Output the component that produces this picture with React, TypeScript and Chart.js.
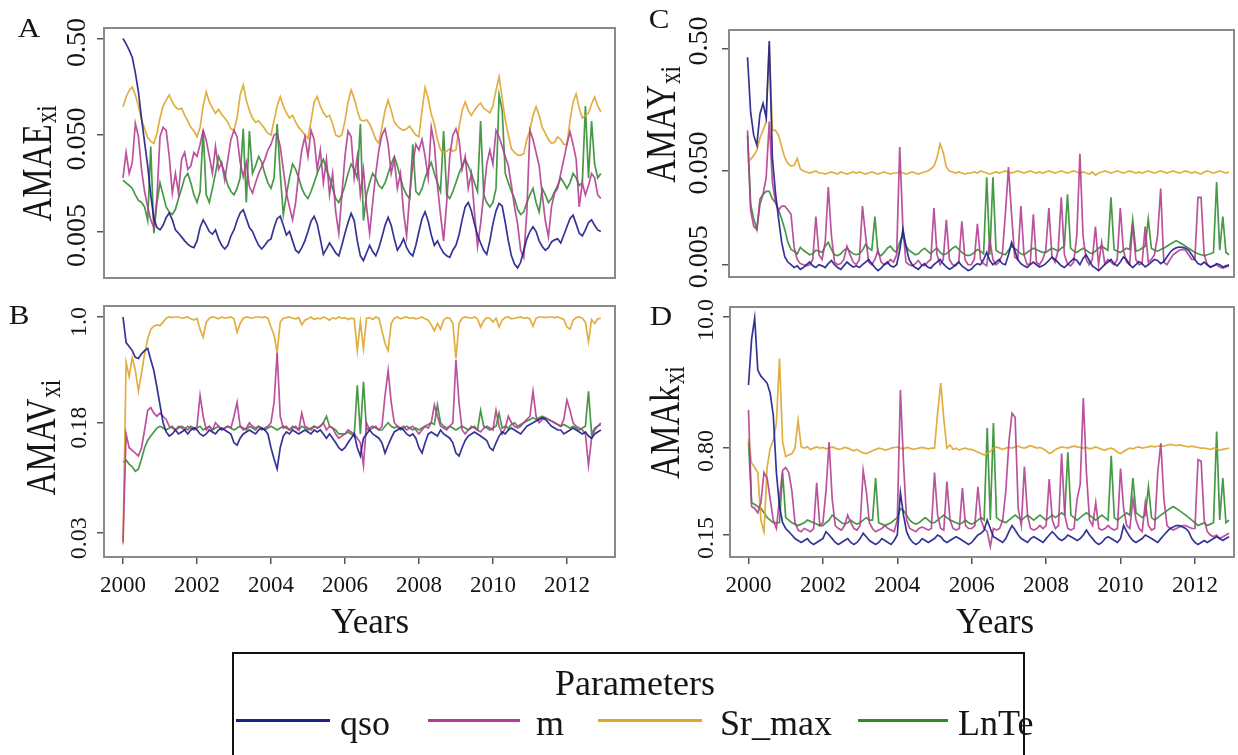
import React, { useEffect, useRef } from "react";
import { Chart, registerables } from "chart.js";
Chart.register(...registerables);

const W = 1238;
const H = 755;
const SERIF = '"Liberation Serif", "DejaVu Serif", serif';
const TEXT = "#151515";
const FRAME = "#8a8a8a";
const TICKC = "#555555";

const SERIES_NAMES = ["qso", "m", "Sr_max", "LnTe"];
const SERIES_COLORS = ["rgba(30,30,140,0.9)", "rgba(178,58,144,0.88)", "rgba(222,166,44,0.9)", "rgba(46,139,46,0.88)"];
const LEGEND_COLORS = ["#1e1e8c", "#b23a90", "#dea62c", "#2e8b2e"];

// monthly time stamps Jan 2000 .. Dec 2012
const MONTHS = Array.from({ length: 156 }, (_, i) => 2000 + i / 12);
const YEAR_TICKS = [2000, 2002, 2004, 2006, 2008, 2010, 2012];

// ---------------- Panel A : AMAE ----------------
const A_QSO = [
  0.50, 0.44, 0.38, 0.32, 0.22, 0.14, 0.075, 0.042, 0.024, 0.012, 0.0068, 0.0055,
  0.0052, 0.0058, 0.0070, 0.0078, 0.0066, 0.0052, 0.0048, 0.0044, 0.0040, 0.0037, 0.0035, 0.0034,
  0.0040, 0.0055, 0.0066, 0.0058, 0.0050, 0.0047, 0.0052, 0.0042, 0.0036, 0.0033, 0.0036, 0.0045,
  0.0052, 0.0065, 0.0078, 0.0084, 0.0068, 0.0055, 0.0050, 0.0042, 0.0036, 0.0033, 0.0036, 0.0040,
  0.0042, 0.0055, 0.0068, 0.0072, 0.0058, 0.0046, 0.0050, 0.0040, 0.0032, 0.0030, 0.0034, 0.0040,
  0.0050, 0.0064, 0.0072, 0.0060, 0.0042, 0.0029, 0.0033, 0.0038, 0.0034, 0.0030, 0.0028, 0.0036,
  0.0048, 0.0062, 0.0077, 0.0065, 0.0040, 0.0028, 0.0025, 0.0030, 0.0036, 0.0031, 0.0028, 0.0034,
  0.0044, 0.0058, 0.0070, 0.0058, 0.0042, 0.0032, 0.0036, 0.0042, 0.0034, 0.0030, 0.0028, 0.0036,
  0.0050, 0.0068, 0.0080, 0.0064, 0.0046, 0.0036, 0.0040, 0.0034, 0.0030, 0.0028, 0.0027, 0.0032,
  0.0036, 0.0046, 0.0066, 0.0090, 0.0100, 0.0082, 0.0060, 0.0046, 0.0038, 0.0032, 0.0029, 0.0040,
  0.0060, 0.0082, 0.0098, 0.0092, 0.0062, 0.0040, 0.0028, 0.0023, 0.0021, 0.0024, 0.0032, 0.0042,
  0.0050, 0.0056, 0.0050, 0.0040, 0.0035, 0.0032, 0.0034, 0.0039, 0.0041, 0.0042, 0.0038, 0.0046,
  0.0056, 0.0068, 0.0074, 0.0060, 0.0048, 0.0045, 0.0052, 0.0062, 0.0066, 0.0058, 0.0052, 0.0050,
];
const A_M = [
  0.018, 0.033, 0.020, 0.026, 0.066, 0.048, 0.022, 0.013, 0.009, 0.0066, 0.0055, 0.011,
  0.048, 0.060, 0.056, 0.030, 0.0125, 0.020, 0.0125, 0.028, 0.033, 0.022, 0.024, 0.033,
  0.030, 0.040, 0.056, 0.044, 0.030, 0.020, 0.038, 0.022, 0.026, 0.017, 0.028, 0.045,
  0.056, 0.048, 0.026, 0.0185, 0.026, 0.0146, 0.0125, 0.016, 0.020, 0.0235, 0.028, 0.035,
  0.040, 0.050, 0.052, 0.038, 0.022, 0.0125, 0.009, 0.0066, 0.010, 0.020, 0.035, 0.048,
  0.030, 0.056, 0.045, 0.022, 0.035, 0.016, 0.028, 0.012, 0.020, 0.008, 0.0048, 0.012,
  0.030, 0.055, 0.048, 0.018, 0.030, 0.012, 0.022, 0.009, 0.0048, 0.010, 0.020, 0.035,
  0.050, 0.058, 0.040, 0.020, 0.028, 0.014, 0.020, 0.008, 0.0045, 0.012, 0.025, 0.040,
  0.035, 0.045, 0.030, 0.018, 0.060, 0.040, 0.015, 0.0075, 0.0040, 0.010, 0.030, 0.050,
  0.058, 0.045, 0.022, 0.030, 0.014, 0.020, 0.008, 0.0035, 0.006, 0.012, 0.025, 0.035,
  0.025, 0.056, 0.048, 0.038, 0.030, 0.024, 0.015, 0.009, 0.006, 0.0032, 0.0027, 0.008,
  0.056, 0.045, 0.033, 0.024, 0.012, 0.0065, 0.0044, 0.009, 0.0125, 0.014, 0.020, 0.028,
  0.040, 0.054, 0.040, 0.028, 0.009, 0.016, 0.012, 0.015, 0.020, 0.018, 0.012, 0.011,
];
const A_SR = [
  0.098, 0.124, 0.145, 0.157, 0.130, 0.100, 0.072, 0.058, 0.047, 0.043, 0.041, 0.052,
  0.075, 0.100, 0.115, 0.130, 0.110, 0.098, 0.092, 0.095, 0.080, 0.070, 0.060, 0.055,
  0.048, 0.060, 0.100, 0.140, 0.110, 0.095, 0.084, 0.092, 0.082, 0.075, 0.068, 0.058,
  0.056, 0.075, 0.130, 0.165, 0.115, 0.090, 0.075, 0.068, 0.070, 0.064, 0.058, 0.052,
  0.050, 0.070, 0.100, 0.125, 0.100, 0.085, 0.075, 0.080, 0.068, 0.060, 0.055, 0.050,
  0.046, 0.070, 0.110, 0.125, 0.100, 0.085, 0.077, 0.080, 0.065, 0.050, 0.048, 0.050,
  0.070, 0.110, 0.146, 0.120, 0.090, 0.072, 0.070, 0.072, 0.065, 0.055, 0.045, 0.041,
  0.060, 0.090, 0.115, 0.090, 0.068, 0.062, 0.058, 0.056, 0.058, 0.062, 0.055, 0.050,
  0.048, 0.090, 0.155, 0.120, 0.082, 0.065, 0.045, 0.035, 0.033, 0.034, 0.036, 0.034,
  0.035, 0.060, 0.090, 0.110, 0.090, 0.080, 0.090, 0.100, 0.107, 0.095, 0.090, 0.085,
  0.100, 0.146, 0.200, 0.120, 0.072, 0.050, 0.036, 0.033, 0.031, 0.031, 0.032, 0.045,
  0.056, 0.080, 0.098, 0.080, 0.060, 0.052, 0.045, 0.041, 0.042, 0.048, 0.045, 0.040,
  0.040, 0.070, 0.110, 0.133, 0.095, 0.075, 0.080, 0.084, 0.105, 0.124, 0.100, 0.087,
];
const A_LN = [
  0.017, 0.016, 0.015, 0.014, 0.012, 0.0105, 0.010, 0.009, 0.0065, 0.038, 0.0048, 0.010,
  0.016, 0.012, 0.009, 0.008, 0.0075, 0.0085, 0.011, 0.014, 0.018, 0.020, 0.016, 0.012,
  0.010, 0.013, 0.056, 0.012, 0.010, 0.014, 0.020, 0.030, 0.025, 0.020, 0.015, 0.013,
  0.012, 0.014, 0.018, 0.058, 0.010, 0.055, 0.020, 0.024, 0.030, 0.026, 0.020, 0.016,
  0.014, 0.018, 0.065, 0.020, 0.0075, 0.012, 0.018, 0.025, 0.022, 0.018, 0.014, 0.012,
  0.011, 0.013, 0.016, 0.020, 0.024, 0.028, 0.022, 0.018, 0.014, 0.011, 0.010, 0.012,
  0.015, 0.020, 0.025, 0.022, 0.018, 0.065, 0.0065, 0.012, 0.016, 0.020, 0.018, 0.015,
  0.014, 0.016, 0.020, 0.025, 0.030, 0.024, 0.018, 0.014, 0.012, 0.011, 0.040, 0.013,
  0.012, 0.014, 0.018, 0.022, 0.026, 0.020, 0.016, 0.013, 0.055, 0.012, 0.011, 0.013,
  0.016, 0.020, 0.024, 0.028, 0.024, 0.020, 0.016, 0.013, 0.070, 0.012, 0.010, 0.009,
  0.010, 0.014, 0.130, 0.090, 0.020, 0.016, 0.013, 0.011, 0.0085, 0.0075, 0.008, 0.010,
  0.012, 0.014, 0.010, 0.008, 0.014, 0.012, 0.010, 0.011, 0.013, 0.015, 0.018, 0.016,
  0.014, 0.016, 0.020, 0.018, 0.015, 0.016, 0.100, 0.018, 0.070, 0.025, 0.018, 0.020,
];

// ---------------- Panel B : AMAV ----------------
const B_QSO = [
  1.0, 0.66, 0.62, 0.58, 0.52, 0.51, 0.55, 0.58, 0.60, 0.50, 0.42, 0.32,
  0.24, 0.18, 0.155, 0.145, 0.15, 0.16, 0.15, 0.155, 0.16, 0.15, 0.16, 0.165,
  0.16, 0.15, 0.145, 0.15, 0.16, 0.155, 0.15, 0.16, 0.165, 0.16, 0.155, 0.15,
  0.13, 0.125, 0.14, 0.15, 0.155, 0.16, 0.155, 0.15, 0.16, 0.165, 0.16, 0.15,
  0.12, 0.10, 0.085, 0.12, 0.145, 0.155, 0.15, 0.16, 0.155, 0.15, 0.155, 0.16,
  0.155, 0.15, 0.16, 0.155, 0.16, 0.15, 0.14, 0.15, 0.14, 0.13, 0.12, 0.115,
  0.12, 0.13, 0.14, 0.15, 0.12, 0.105, 0.14, 0.15, 0.16, 0.15, 0.145, 0.14,
  0.13, 0.11, 0.125, 0.14, 0.155, 0.16, 0.165, 0.16, 0.15, 0.145, 0.15, 0.14,
  0.12, 0.11, 0.13, 0.15, 0.155, 0.15, 0.145, 0.16, 0.15, 0.145, 0.14, 0.13,
  0.11, 0.105, 0.12, 0.135, 0.145, 0.15, 0.155, 0.15, 0.145, 0.14, 0.135, 0.12,
  0.115, 0.13, 0.145, 0.155, 0.15, 0.16, 0.165, 0.16, 0.155, 0.15, 0.16, 0.17,
  0.175, 0.18, 0.185, 0.19, 0.195, 0.19, 0.18, 0.17, 0.165, 0.16, 0.16, 0.15,
  0.155, 0.16, 0.165, 0.16, 0.155, 0.15, 0.155, 0.145, 0.14, 0.15, 0.155, 0.16,
];
const B_M = [
  0.026, 0.15, 0.12, 0.115, 0.11, 0.105, 0.12, 0.16, 0.22, 0.23, 0.21, 0.20,
  0.21, 0.20, 0.19, 0.17, 0.165, 0.16, 0.17, 0.165, 0.16, 0.17, 0.165, 0.16,
  0.17, 0.28, 0.20, 0.16, 0.17, 0.16, 0.18, 0.17, 0.16, 0.165, 0.17, 0.165,
  0.20, 0.25, 0.17, 0.16, 0.165, 0.18, 0.17, 0.165, 0.17, 0.16, 0.165, 0.17,
  0.18, 0.25, 0.56, 0.20, 0.165, 0.17, 0.16, 0.165, 0.17, 0.16, 0.21, 0.17,
  0.165, 0.16, 0.17, 0.165, 0.17, 0.18, 0.16, 0.17, 0.165, 0.15, 0.14, 0.145,
  0.15, 0.16, 0.155, 0.15, 0.14, 0.13, 0.09, 0.18, 0.16, 0.165, 0.17, 0.16,
  0.17, 0.28, 0.42, 0.25, 0.18, 0.17, 0.165, 0.17, 0.16, 0.165, 0.17, 0.16,
  0.15, 0.16, 0.17, 0.165, 0.18, 0.24, 0.20, 0.17, 0.165, 0.16, 0.17, 0.18,
  0.50, 0.25, 0.16, 0.15, 0.16, 0.165, 0.17, 0.16, 0.155, 0.165, 0.17, 0.165,
  0.16, 0.22, 0.17, 0.15, 0.165, 0.20, 0.18, 0.17, 0.165, 0.17, 0.18, 0.19,
  0.20, 0.30, 0.20, 0.18, 0.19, 0.195, 0.19, 0.185, 0.18, 0.175, 0.17, 0.19,
  0.26, 0.22, 0.18, 0.17, 0.165, 0.16, 0.15, 0.09, 0.14, 0.16, 0.17, 0.18,
];
const B_SR = [
  0.025, 0.48, 0.38, 0.52, 0.42, 0.30, 0.40, 0.55, 0.70, 0.82, 0.86, 0.88,
  0.87, 0.92, 0.98, 1.0, 0.99, 1.0, 1.0, 0.98, 0.99, 1.0, 0.97, 0.95,
  0.98, 0.82, 0.72, 0.92, 0.98, 1.0, 0.99, 0.97, 1.0, 0.98, 0.99, 1.0,
  0.97, 0.78, 0.90, 0.98, 1.0, 0.99, 0.98, 1.0, 1.0, 0.99, 1.0, 0.98,
  0.85, 0.75, 0.56, 0.92, 0.98, 0.99, 1.0, 0.98, 0.97, 0.99, 0.88, 0.95,
  0.97, 1.0, 0.96, 0.98, 0.97, 1.0, 0.98, 0.95, 0.99, 0.97, 1.0, 0.98,
  0.99, 0.96, 0.98, 0.97, 0.58, 0.92, 0.60, 0.98, 0.99, 0.96, 1.0, 0.98,
  0.80, 0.65, 0.58, 0.90, 0.98, 1.0, 0.97, 0.99, 1.0, 0.98, 0.99, 0.97,
  0.98, 1.0, 0.97, 0.95, 0.88, 0.80, 0.90, 0.82, 0.95, 0.99, 0.98, 0.90,
  0.51, 0.90, 0.98, 1.0, 0.99, 0.98, 1.0, 0.97, 0.85, 0.94, 0.99, 0.98,
  0.92, 0.98, 0.85, 0.95, 0.99, 1.0, 0.97, 0.98, 0.99, 1.0, 0.98, 0.99,
  0.97, 0.86, 0.98, 1.0, 1.0, 0.99, 1.0, 1.0, 0.99, 1.0, 0.98, 0.96,
  0.85, 0.82, 0.95, 0.99, 1.0, 0.98, 0.92, 0.67, 0.96, 0.90, 0.97, 0.98,
];
const B_LN = [
  0.095, 0.098, 0.092, 0.088, 0.082, 0.085, 0.10, 0.12, 0.135, 0.145, 0.155, 0.165,
  0.17, 0.165, 0.16, 0.165, 0.17, 0.16, 0.165, 0.17, 0.165, 0.16, 0.17, 0.165,
  0.165, 0.17, 0.16, 0.165, 0.17, 0.16, 0.165, 0.17, 0.16, 0.165, 0.17, 0.165,
  0.16, 0.165, 0.17, 0.165, 0.16, 0.17, 0.165, 0.16, 0.17, 0.165, 0.16, 0.165,
  0.17, 0.165, 0.16, 0.165, 0.17, 0.165, 0.16, 0.17, 0.165, 0.16, 0.17, 0.165,
  0.16, 0.165, 0.17, 0.165, 0.17, 0.18, 0.20, 0.17, 0.165, 0.16, 0.15, 0.15,
  0.15, 0.155, 0.15, 0.145, 0.33, 0.15, 0.35, 0.16, 0.165, 0.17, 0.165, 0.16,
  0.16, 0.17, 0.18, 0.17, 0.165, 0.17, 0.16, 0.165, 0.17, 0.165, 0.16, 0.165,
  0.16, 0.165, 0.17, 0.175, 0.18, 0.175, 0.24, 0.18, 0.17, 0.165, 0.17, 0.165,
  0.16, 0.165, 0.17, 0.165, 0.16, 0.17, 0.165, 0.16, 0.22, 0.17, 0.165, 0.16,
  0.165, 0.17, 0.21, 0.165, 0.17, 0.165, 0.175, 0.18, 0.17, 0.175, 0.18, 0.185,
  0.19, 0.195, 0.19, 0.195, 0.20, 0.195, 0.19, 0.185, 0.18, 0.175, 0.17, 0.175,
  0.17, 0.165, 0.17, 0.165, 0.16, 0.165, 0.17, 0.30, 0.15, 0.165, 0.17, 0.175,
];

// ---------------- Panel C : AMAY ----------------
const C_QSO = [
  0.43, 0.155, 0.10, 0.083, 0.15, 0.183, 0.14, 0.58, 0.065, 0.032, 0.018, 0.010,
  0.0065, 0.0055, 0.0050, 0.0045, 0.0048, 0.0042, 0.0045, 0.0050, 0.0055, 0.0048, 0.0045, 0.0050,
  0.0048, 0.0045, 0.0052, 0.0058, 0.0050, 0.0045, 0.0042, 0.0048, 0.0055, 0.0050, 0.0046, 0.0048,
  0.0045, 0.0050, 0.0055, 0.0060, 0.0052, 0.0045, 0.0040, 0.0044, 0.0050, 0.0055, 0.0048, 0.0046,
  0.0050, 0.0080, 0.0140, 0.0090, 0.0060, 0.0050, 0.0045, 0.0042, 0.0048, 0.0052, 0.0046, 0.0044,
  0.0050, 0.0055, 0.0060, 0.0052, 0.0046, 0.0042, 0.0045, 0.0050, 0.0055, 0.0048, 0.0044, 0.0040,
  0.0042, 0.0048, 0.0052, 0.0050, 0.0060, 0.0075, 0.0058, 0.0050, 0.0055, 0.0060, 0.0052, 0.0050,
  0.0070, 0.0100, 0.0080, 0.0060, 0.0052, 0.0048, 0.0045, 0.0050, 0.0055, 0.0050, 0.0046, 0.0048,
  0.0052, 0.0058, 0.0065, 0.0060, 0.0054, 0.0048, 0.0045, 0.0050, 0.0056, 0.0062, 0.0058, 0.0050,
  0.0062, 0.0070, 0.0058, 0.0048, 0.0044, 0.0040, 0.0045, 0.0050, 0.0055, 0.0060, 0.0052, 0.0048,
  0.0055, 0.0065, 0.0060, 0.0050, 0.0045, 0.0050, 0.0056, 0.0052, 0.0046, 0.0050, 0.0055, 0.0060,
  0.0058, 0.0052, 0.0056, 0.0065, 0.0075, 0.0082, 0.0086, 0.0088, 0.0087, 0.0085, 0.0080, 0.0070,
  0.0060, 0.0052, 0.0050, 0.0055, 0.0050, 0.0046, 0.0048, 0.0052, 0.0050, 0.0046, 0.0048, 0.0050,
];
const C_M = [
  0.11, 0.022, 0.015, 0.014, 0.028, 0.031, 0.044, 0.13, 0.040, 0.026, 0.022, 0.024,
  0.024, 0.022, 0.020, 0.0087, 0.0060, 0.0052, 0.0050, 0.0048, 0.0050, 0.0060, 0.019, 0.0070,
  0.0060, 0.010, 0.036, 0.012, 0.0055, 0.0050, 0.0052, 0.0060, 0.0090, 0.0070, 0.0055, 0.0050,
  0.0060, 0.024, 0.012, 0.0055, 0.0050, 0.0060, 0.0080, 0.0055, 0.0050, 0.0052, 0.0060, 0.0055,
  0.0070, 0.080, 0.015, 0.0055, 0.0050, 0.0048, 0.0052, 0.0058, 0.0050, 0.0048, 0.0055, 0.0060,
  0.023, 0.0070, 0.0050, 0.0060, 0.0176, 0.0060, 0.0050, 0.0048, 0.0055, 0.017, 0.0060, 0.0050,
  0.0050, 0.0060, 0.016, 0.0060, 0.0052, 0.0048, 0.0107, 0.0060, 0.0050, 0.0055, 0.0070, 0.020,
  0.054, 0.020, 0.0065, 0.0060, 0.024, 0.0070, 0.0050, 0.0052, 0.020, 0.0055, 0.0050, 0.0060,
  0.0080, 0.023, 0.0065, 0.0055, 0.0080, 0.029, 0.0070, 0.0052, 0.0048, 0.0055, 0.012, 0.070,
  0.012, 0.0060, 0.0050, 0.0060, 0.015, 0.0050, 0.010, 0.0052, 0.0060, 0.0055, 0.0050, 0.0060,
  0.023, 0.0080, 0.0055, 0.0050, 0.016, 0.0060, 0.0050, 0.0052, 0.015, 0.0055, 0.0060, 0.0070,
  0.012, 0.035, 0.0055, 0.0050, 0.0060, 0.0070, 0.0075, 0.0080, 0.0082, 0.0080, 0.0070, 0.0060,
  0.0060, 0.029, 0.029, 0.0070, 0.0050, 0.0045, 0.0048, 0.0050, 0.0046, 0.0044, 0.0046, 0.0048,
];
const C_SR = [
  0.060, 0.063, 0.068, 0.075, 0.095, 0.11, 0.13, 0.54, 0.11, 0.11, 0.10, 0.08,
  0.065, 0.058, 0.055, 0.056, 0.064, 0.052, 0.050, 0.049, 0.048, 0.049, 0.050, 0.048,
  0.048, 0.047, 0.048, 0.049, 0.048, 0.047, 0.049, 0.048, 0.047, 0.048, 0.049, 0.048,
  0.049, 0.048, 0.047, 0.048, 0.049, 0.048, 0.047, 0.048, 0.049, 0.048, 0.047, 0.048,
  0.048, 0.049, 0.048, 0.047, 0.048, 0.049, 0.048, 0.047, 0.048, 0.049, 0.050, 0.052,
  0.055, 0.065, 0.085, 0.072, 0.054, 0.050, 0.049, 0.048, 0.049, 0.048, 0.047, 0.048,
  0.048, 0.049, 0.048, 0.050, 0.049, 0.048, 0.047, 0.048, 0.049, 0.048, 0.049, 0.050,
  0.049, 0.048, 0.049, 0.050, 0.049, 0.048, 0.049, 0.050, 0.049, 0.048, 0.049, 0.048,
  0.049, 0.050, 0.049, 0.048, 0.049, 0.050, 0.049, 0.048, 0.049, 0.050, 0.049, 0.048,
  0.049, 0.048, 0.047, 0.049, 0.046, 0.048, 0.049, 0.050, 0.049, 0.048, 0.049, 0.050,
  0.049, 0.048, 0.049, 0.050, 0.049, 0.048, 0.049, 0.048, 0.049, 0.050, 0.049, 0.048,
  0.049, 0.050, 0.049, 0.048, 0.049, 0.050, 0.049, 0.048, 0.049, 0.050, 0.049, 0.048,
  0.049, 0.048, 0.047, 0.049, 0.050, 0.049, 0.048, 0.049, 0.050, 0.049, 0.048, 0.049,
];
const C_LN = [
  0.10, 0.025, 0.018, 0.014, 0.025, 0.031, 0.033, 0.033, 0.028, 0.026, 0.022, 0.018,
  0.014, 0.010, 0.0082, 0.0078, 0.0072, 0.0087, 0.0080, 0.0075, 0.0070, 0.0072, 0.0080, 0.0078,
  0.0075, 0.0090, 0.010, 0.0082, 0.0070, 0.0068, 0.0072, 0.0080, 0.0085, 0.0078, 0.0072, 0.0070,
  0.0072, 0.0080, 0.0095, 0.0085, 0.0080, 0.019, 0.0072, 0.0068, 0.0075, 0.0085, 0.0090, 0.0080,
  0.0075, 0.010, 0.012, 0.0090, 0.0080, 0.0075, 0.0070, 0.0072, 0.0080, 0.0085, 0.0078, 0.0072,
  0.0080, 0.0085, 0.0075, 0.0070, 0.0072, 0.0078, 0.0085, 0.0090, 0.0082, 0.0075, 0.0070, 0.0068,
  0.0070, 0.0075, 0.0082, 0.0078, 0.0072, 0.044, 0.0070, 0.044, 0.0080, 0.0075, 0.0072, 0.0070,
  0.0080, 0.0090, 0.0085, 0.0078, 0.0072, 0.0070, 0.0075, 0.0080, 0.0085, 0.0082, 0.0078, 0.0075,
  0.0075, 0.0080, 0.0085, 0.0082, 0.0078, 0.0085, 0.0090, 0.031, 0.0085, 0.0078, 0.0075, 0.0080,
  0.0085, 0.0080, 0.0075, 0.0072, 0.0078, 0.0085, 0.0090, 0.0085, 0.0080, 0.029, 0.0082, 0.0078,
  0.0075, 0.0080, 0.0085, 0.0082, 0.0176, 0.0078, 0.0080, 0.0085, 0.0090, 0.018, 0.0085, 0.0080,
  0.0078, 0.0082, 0.0085, 0.0090, 0.0095, 0.0100, 0.0105, 0.0100, 0.0095, 0.0090, 0.0085, 0.0080,
  0.0075, 0.0072, 0.0070, 0.0068, 0.0070, 0.0072, 0.0075, 0.040, 0.0080, 0.019, 0.0075, 0.0070,
];

// ---------------- Panel D : AMAk ----------------
const D_QSO = [
  2.7, 6.5, 9.8, 3.6, 3.2, 3.0, 2.8, 2.3, 1.5, 0.50, 0.26, 0.19,
  0.17, 0.16, 0.15, 0.14, 0.135, 0.13, 0.135, 0.14, 0.13, 0.125, 0.13, 0.135,
  0.14, 0.16, 0.15, 0.14, 0.13, 0.125, 0.13, 0.135, 0.14, 0.13, 0.125, 0.13,
  0.14, 0.155, 0.145, 0.135, 0.13, 0.125, 0.13, 0.14, 0.135, 0.13, 0.125, 0.135,
  0.15, 0.34, 0.22, 0.16, 0.14, 0.13, 0.125, 0.13, 0.14, 0.135, 0.13, 0.135,
  0.14, 0.15, 0.145, 0.135, 0.13, 0.135, 0.14, 0.145, 0.14, 0.135, 0.13, 0.125,
  0.13, 0.14, 0.15, 0.155, 0.165, 0.20, 0.17, 0.145, 0.14, 0.135, 0.13, 0.14,
  0.16, 0.18, 0.165, 0.15, 0.14, 0.135, 0.13, 0.14, 0.145, 0.14, 0.135, 0.13,
  0.14, 0.15, 0.16, 0.15, 0.14, 0.135, 0.14, 0.15, 0.145, 0.14, 0.135, 0.14,
  0.15, 0.165, 0.15, 0.14, 0.13, 0.125, 0.13, 0.14, 0.145, 0.14, 0.135, 0.13,
  0.14, 0.18, 0.16, 0.145, 0.135, 0.13, 0.135, 0.14, 0.15, 0.145, 0.14, 0.135,
  0.13, 0.14, 0.15, 0.16, 0.17, 0.175, 0.18, 0.18, 0.175, 0.17, 0.16, 0.14,
  0.13, 0.125, 0.13, 0.135, 0.13, 0.135, 0.14, 0.145, 0.14, 0.135, 0.14, 0.145,
];
const D_M = [
  1.67, 0.26, 0.25, 0.23, 0.28, 0.50, 0.45, 0.30, 0.20, 0.17, 0.30, 0.52,
  0.55, 0.50, 0.35, 0.19, 0.165, 0.16, 0.17, 0.165, 0.16, 0.17, 0.41, 0.18,
  0.19, 0.35, 0.90, 0.30, 0.18, 0.17, 0.165, 0.18, 0.22, 0.19, 0.17, 0.165,
  0.18, 0.52, 0.35, 0.19, 0.17, 0.16, 0.165, 0.17, 0.18, 0.17, 0.165, 0.16,
  0.20, 2.45, 0.60, 0.20, 0.17, 0.165, 0.16, 0.17, 0.175, 0.17, 0.165, 0.17,
  0.50, 0.22, 0.17, 0.165, 0.42, 0.20, 0.17, 0.165, 0.17, 0.37, 0.18, 0.17,
  0.17, 0.18, 0.38, 0.20, 0.17, 0.16, 0.12, 0.17, 0.165, 0.17, 0.20, 0.35,
  0.90, 1.57, 1.45, 0.25, 0.18, 0.56, 0.22, 0.17, 0.165, 0.17, 0.18, 0.17,
  0.18, 0.44, 0.20, 0.17, 0.18, 0.72, 0.22, 0.17, 0.165, 0.17, 0.30, 0.40,
  2.1, 0.50, 0.20, 0.18, 0.28, 0.17, 0.165, 0.17, 0.18, 0.17, 0.165, 0.17,
  0.54, 0.25, 0.18, 0.17, 0.30, 0.20, 0.17, 0.16, 0.28, 0.18, 0.165, 0.17,
  0.50, 0.88, 0.30, 0.18, 0.17, 0.165, 0.17, 0.175, 0.18, 0.18, 0.175, 0.17,
  0.17, 0.64, 0.62, 0.20, 0.16, 0.15, 0.145, 0.15, 0.14, 0.145, 0.15, 0.155,
];
const D_SR = [
  0.95, 0.60, 0.55, 0.50, 0.20, 0.16, 0.55, 0.80, 0.93, 1.30, 4.50, 0.90,
  0.68, 0.70, 0.72, 0.80, 1.37, 0.82, 0.80, 0.82, 0.78, 0.80, 0.82, 0.80,
  0.81, 0.79, 0.80, 0.82, 0.80, 0.78, 0.79, 0.81, 0.80, 0.78, 0.76, 0.78,
  0.75, 0.73, 0.72, 0.74, 0.76, 0.78, 0.80, 0.79, 0.77, 0.78, 0.80, 0.81,
  0.82, 0.80, 0.79, 0.81, 0.80, 0.78, 0.79, 0.80, 0.81, 0.80, 0.79, 0.80,
  0.80, 1.57, 2.80, 1.40, 0.80, 0.85, 0.78, 0.80, 0.77, 0.79, 0.80, 0.78,
  0.78, 0.76, 0.74, 0.72, 0.70, 0.72, 0.75, 0.80, 0.82, 0.80, 0.78, 0.80,
  0.81, 0.80, 0.82, 0.83, 0.81, 0.80, 0.82, 0.84, 0.82, 0.80, 0.81, 0.79,
  0.76, 0.72, 0.74, 0.78, 0.80, 0.82, 0.81, 0.80, 0.82, 0.83, 0.82, 0.81,
  0.80, 0.81, 0.79, 0.80, 0.82, 0.80, 0.78, 0.77, 0.79, 0.80, 0.78, 0.74,
  0.72, 0.75, 0.78, 0.80, 0.79, 0.81, 0.82, 0.80, 0.81, 0.82, 0.83, 0.82,
  0.83, 0.84, 0.83, 0.85, 0.86, 0.85, 0.84, 0.85, 0.84, 0.83, 0.82, 0.83,
  0.82, 0.81, 0.80, 0.80, 0.79, 0.78, 0.80, 0.79, 0.77, 0.78, 0.79, 0.80,
];
const D_LN = [
  0.90, 0.28, 0.27, 0.26, 0.25, 0.23, 0.21, 0.20, 0.19, 0.19, 0.19, 0.50,
  0.21, 0.20, 0.19, 0.185, 0.18, 0.185, 0.19, 0.20, 0.195, 0.19, 0.185, 0.18,
  0.18, 0.19, 0.20, 0.22, 0.21, 0.20, 0.19, 0.185, 0.19, 0.20, 0.19, 0.185,
  0.19, 0.20, 0.21, 0.20, 0.20, 0.45, 0.19, 0.185, 0.18, 0.185, 0.19, 0.20,
  0.21, 0.25, 0.24, 0.22, 0.20, 0.19, 0.185, 0.19, 0.20, 0.21, 0.20, 0.19,
  0.19, 0.20, 0.21, 0.22, 0.21, 0.20, 0.195, 0.19, 0.185, 0.19, 0.20, 0.19,
  0.185, 0.19, 0.20, 0.21, 0.20, 1.18, 0.20, 1.30, 0.21, 0.20, 0.195, 0.19,
  0.20, 0.21, 0.22, 0.21, 0.20, 0.21, 0.22, 0.21, 0.20, 0.21, 0.22, 0.21,
  0.20, 0.21, 0.22, 0.21, 0.22, 0.23, 0.22, 0.74, 0.22, 0.21, 0.20, 0.21,
  0.22, 0.23, 0.22, 0.21, 0.20, 0.21, 0.22, 0.21, 0.20, 0.69, 0.21, 0.20,
  0.21, 0.22, 0.23, 0.22, 0.45, 0.23, 0.22, 0.21, 0.22, 0.38, 0.21, 0.20,
  0.21, 0.22, 0.23, 0.24, 0.25, 0.26, 0.25, 0.24, 0.23, 0.22, 0.21, 0.20,
  0.19, 0.18, 0.185, 0.19, 0.18, 0.185, 0.19, 1.10, 0.20, 0.45, 0.19, 0.20,
];

// tick values / labels
const A_TICKS = [0.005, 0.05, 0.5];
const A_TICK_LABELS = ["0.005", "0.050", "0.50"];
const B_TICKS = [0.03, 0.18, 1.0];
const B_TICK_LABELS = ["0.03", "0.18", "1.0"];
const C_TICKS = [0.005, 0.05, 0.5];
const C_TICK_LABELS = ["0.005", "0.050", "0.50"];
const D_TICKS = [0.15, 0.8, 10];
const D_TICK_LABELS = ["0.15", "0.80", "10.0"];

type PanelDef = {
  key: string;
  letter: string;
  title: string;
  series: number[][];
  ticks: number[];
  tickLabels: string[];
  yRange: [number, number];
  xRange: [number, number];
  offset?: number; // axis drawn as log10(v + offset) on a linear scale
  frame: { left: number; top: number; right: number; bottom: number };
  showX: boolean;
  tickFont: number;
  tickLabelX: number;
  tickLabelDy: number;
  titleX: number;
  titleY: number;
  letterX: number;
  letterY: number;
  yearsX: number;
};

const PANELS: PanelDef[] = [
  {
    key: "A", letter: "A", title: "AMAE", series: [A_QSO, A_M, A_SR, A_LN],
    ticks: A_TICKS, tickLabels: A_TICK_LABELS, yRange: [0.00165, 0.643], xRange: [1999.486, 2013.3],
    frame: { left: 104, top: 28, right: 615, bottom: 278 }, showX: false,
    tickFont: 28, tickLabelX: 78, tickLabelDy: 4, titleX: 51, titleY: 164, letterX: 29, letterY: 30, yearsX: 0,
  },
  {
    key: "B", letter: "B", title: "AMAV", series: [B_QSO, B_M, B_SR, B_LN],
    ticks: B_TICKS, tickLabels: B_TICK_LABELS, yRange: [0.0204, 1.195], xRange: [1999.486, 2013.3],
    frame: { left: 104, top: 306, right: 615, bottom: 557 }, showX: true,
    tickFont: 24, tickLabelX: 80, tickLabelDy: 5, titleX: 55, titleY: 438, letterX: 19, letterY: 317, yearsX: 370,
  },
  {
    key: "C", letter: "C", title: "AMAY", series: [C_QSO, C_M, C_SR, C_LN],
    ticks: C_TICKS, tickLabels: C_TICK_LABELS, yRange: [0.0030, 0.7085], xRange: [1999.503, 2013.05], offset: 0.005,
    frame: { left: 729, top: 30, right: 1234, bottom: 277 }, showX: false,
    tickFont: 28, tickLabelX: 700, tickLabelDy: -8, titleX: 675, titleY: 125, letterX: 659, letterY: 21, yearsX: 0,
  },
  {
    key: "D", letter: "D", title: "AMAk", series: [D_QSO, D_M, D_SR, D_LN],
    ticks: D_TICKS, tickLabels: D_TICK_LABELS, yRange: [0.0982, 12.13], xRange: [1999.503, 2013.05],
    frame: { left: 730, top: 307, right: 1234, bottom: 557 }, showX: true,
    tickFont: 24, tickLabelX: 707, tickLabelDy: 3, titleX: 679, titleY: 423, letterX: 661, letterY: 318, yearsX: 995,
  },
];

const YW = 10; // y axis box width (tick marks only)
const XH = 85; // x axis box height for bottom panels

function PanelChart({ p }: { p: PanelDef }) {
  const ref = useRef<HTMLCanvasElement | null>(null);
  useEffect(() => {
    if (!ref.current) return;
    const toAxis = (v: number) => (p.offset !== undefined ? Math.log10(v + p.offset) : v);
    const datasets = p.series.map((arr, k) => ({
      label: SERIES_NAMES[k],
      data: arr.map((v, i) => ({ x: MONTHS[i], y: toAxis(v) })),
      borderColor: SERIES_COLORS[k],
      backgroundColor: SERIES_COLORS[k],
      borderWidth: 1.7,
      pointRadius: 0,
      tension: 0,
      fill: false,
    }));
    const deco = {
      id: "deco" + p.key,
      afterDraw(chart: any) {
        const ctx = chart.ctx as CanvasRenderingContext2D;
        const ca = chart.chartArea;
        ctx.save();
        ctx.strokeStyle = FRAME;
        ctx.lineWidth = 2;
        ctx.strokeRect(ca.left, ca.top, ca.right - ca.left, ca.bottom - ca.top);
        // y tick labels (rotated, R style)
        ctx.fillStyle = TEXT;
        ctx.font = `${p.tickFont}px ${SERIF}`;
        ctx.textAlign = "center";
        ctx.textBaseline = "middle";
        const ys = chart.scales.y;
        p.ticks.forEach((v, i) => {
          const py = ys.getPixelForValue(toAxis(v));
          ctx.save();
          ctx.translate(p.tickLabelX, py + p.tickLabelDy);
          ctx.rotate(-Math.PI / 2);
          ctx.fillText(p.tickLabels[i], 0, 0);
          ctx.restore();
        });
        // y axis title with subscript
        ctx.save();
        ctx.translate(p.titleX, p.titleY);
        ctx.scale(1.3, 1);
        ctx.rotate(-Math.PI / 2);
        const mainFont = `33px ${SERIF}`;
        const subFont = `23px ${SERIF}`;
        ctx.font = mainFont;
        const wMain = ctx.measureText(p.title).width;
        ctx.font = subFont;
        const wSub = ctx.measureText("xi").width;
        const start = -(wMain + wSub) / 2;
        ctx.textAlign = "left";
        ctx.textBaseline = "alphabetic";
        ctx.font = mainFont;
        ctx.fillText(p.title, start, 0);
        ctx.font = subFont;
        ctx.fillText("xi", start + wMain + 1, 4);
        ctx.restore();
        // panel letter
        ctx.save();
        ctx.translate(p.letterX, p.letterY);
        ctx.scale(1.15, 1);
        ctx.font = `27px ${SERIF}`;
        ctx.textAlign = "center";
        ctx.textBaseline = "middle";
        ctx.fillText(p.letter, 0, 0);
        ctx.restore();
        // x axis title
        if (p.showX) {
          ctx.font = `35px ${SERIF}`;
          ctx.textAlign = "center";
          ctx.textBaseline = "alphabetic";
          ctx.fillText("Years", p.yearsX, 633);
        }
        ctx.restore();
      },
    };
    const chart = new Chart(ref.current, {
      type: "line",
      data: { datasets },
      options: {
        responsive: false,
        animation: false,
        devicePixelRatio: 1,
        events: [],
        layout: {
          padding: {
            left: p.frame.left - YW,
            top: p.frame.top,
            right: W - p.frame.right,
            bottom: H - p.frame.bottom - (p.showX ? XH : 0),
          },
        },
        plugins: { legend: { display: false }, tooltip: { enabled: false }, title: { display: false } },
        scales: {
          x: {
            type: "linear",
            display: p.showX,
            min: p.xRange[0],
            max: p.xRange[1],
            bounds: "data",
            afterBuildTicks: (s: any) => {
              s.ticks = YEAR_TICKS.map((v) => ({ value: v }));
            },
            afterFit: (s: any) => {
              s.height = p.showX ? XH : 0;
            },
            ticks: {
              autoSkip: false,
              maxRotation: 0,
              minRotation: 0,
              padding: 8,
              color: TEXT,
              font: { family: SERIF, size: 23 },
              callback: (v: any) => String(v),
            },
            grid: { display: true, drawOnChartArea: false, drawTicks: true, tickLength: 7, color: TICKC, lineWidth: 1.5 },
            border: { display: false },
          },
          y: {
            type: p.offset !== undefined ? "linear" : "logarithmic",
            min: toAxis(p.yRange[0]),
            max: toAxis(p.yRange[1]),
            bounds: "data",
            afterBuildTicks: (s: any) => {
              s.ticks = p.ticks.map((v) => ({ value: toAxis(v) }));
            },
            afterFit: (s: any) => {
              s.width = YW;
            },
            ticks: { display: false },
            grid: { display: true, drawOnChartArea: false, drawTicks: true, tickLength: 7, color: TICKC, lineWidth: 1.5 },
            border: { display: false },
          },
        },
      } as any,
      plugins: [deco],
    });
    return () => chart.destroy();
  }, [p]);
  return <canvas ref={ref} width={W} height={H} style={{ position: "absolute", left: 0, top: 0 }} />;
}

const LEGEND_ITEMS = [
  { line: [236, 330], text: 340 },
  { line: [428, 520], text: 536 },
  { line: [598, 702], text: 720 },
  { line: [858, 948], text: 958 },
];

function Legend() {
  const font: React.CSSProperties = { fontFamily: SERIF, fontSize: 36, lineHeight: "36px", color: TEXT, whiteSpace: "nowrap" };
  return (
    <>
      <div style={{ position: "absolute", left: 232, top: 652, width: 793, height: 120, border: "2px solid #111", boxSizing: "border-box" }} />
      <div style={{ ...font, position: "absolute", left: 435, width: 400, top: 665, textAlign: "center" }}>Parameters</div>
      {LEGEND_ITEMS.map((it, k) => (
        <React.Fragment key={k}>
          <div style={{ position: "absolute", left: it.line[0], top: 719, width: it.line[1] - it.line[0], height: 3, background: LEGEND_COLORS[k] }} />
          <div style={{ ...font, position: "absolute", left: it.text, top: 705 }}>{SERIES_NAMES[k]}</div>
        </React.Fragment>
      ))}
    </>
  );
}

export default function App() {
  return (
    <div style={{ position: "fixed", left: 0, top: 0, width: W, height: H, background: "#fff", overflow: "hidden" }}>
      {PANELS.map((p) => (
        <PanelChart key={p.key} p={p} />
      ))}
      <Legend />
    </div>
  );
}
